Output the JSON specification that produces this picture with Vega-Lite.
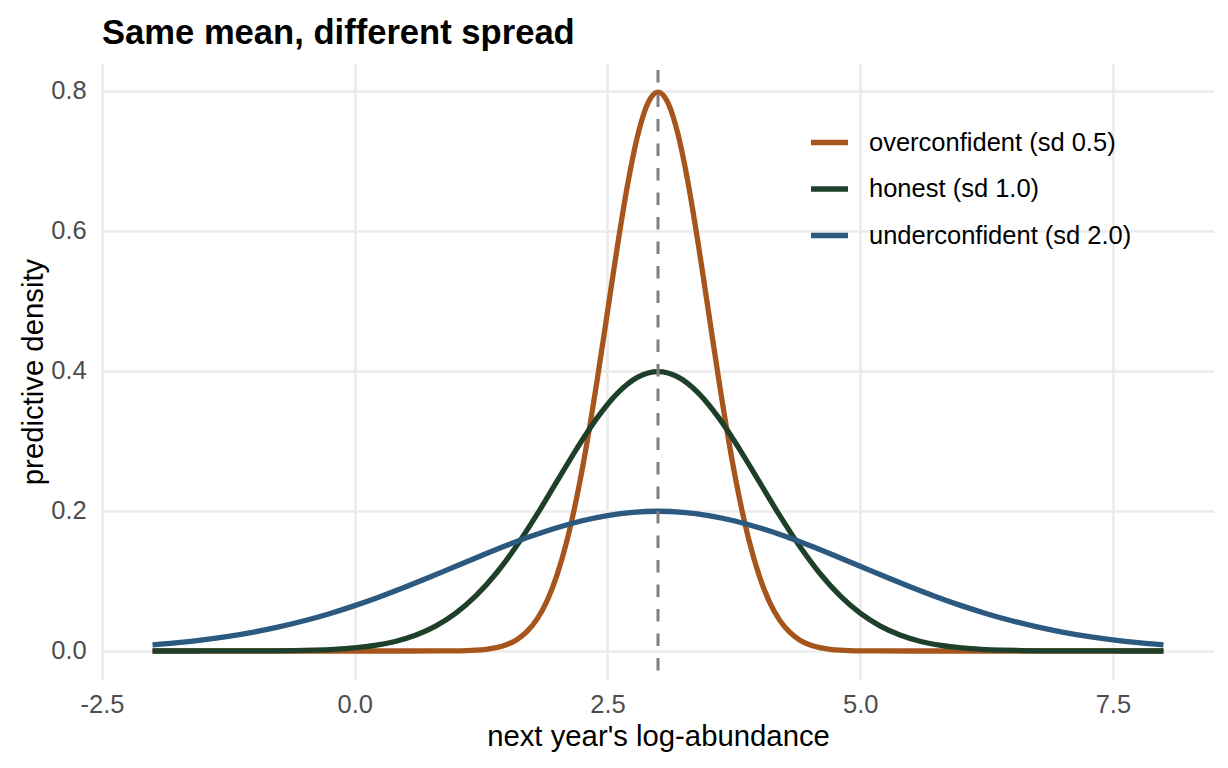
{
  "$schema": "https://vega.github.io/schema/vega-lite/v6.json",
  "width": 1112,
  "height": 615,
  "autosize": {"type": "none"},
  "padding": {"left": 102, "top": 64, "right": 14, "bottom": 89},
  "background": "#ffffff",
  "title": {
    "text": "Same mean, different spread",
    "anchor": "start",
    "frame": "group",
    "font": "Liberation Sans",
    "fontSize": 34.6,
    "fontWeight": "bold",
    "color": "#000000",
    "offset": 11
  },
  "config": {
    "view": {"stroke": null},
    "axis": {
      "domain": false,
      "ticks": false,
      "tickSize": 0,
      "grid": true,
      "gridColor": "#EBEBEB",
      "gridWidth": 2.7,
      "labelFont": "Liberation Sans",
      "labelFontSize": 25.5,
      "labelColor": "#4D4D4D",
      "labelFlush": false,
      "labelOverlap": false,
      "labelBound": false,
      "titleFont": "Liberation Sans",
      "titleFontSize": 29.3,
      "titleFontWeight": "normal",
      "titleColor": "#000000"
    }
  },
  "datasets": {
    "curves": [
      {"forecast": "overconfident (sd 0.5)", "x": -2, "density": 0},
      {"forecast": "overconfident (sd 0.5)", "x": -1, "density": 0},
      {"forecast": "overconfident (sd 0.5)", "x": 0, "density": 0},
      {"forecast": "overconfident (sd 0.5)", "x": 0.5, "density": 0.000003},
      {"forecast": "overconfident (sd 0.5)", "x": 1.0, "density": 0.000268},
      {"forecast": "overconfident (sd 0.5)", "x": 1.1, "density": 0.000584},
      {"forecast": "overconfident (sd 0.5)", "x": 1.2, "density": 0.001224},
      {"forecast": "overconfident (sd 0.5)", "x": 1.3, "density": 0.002464},
      {"forecast": "overconfident (sd 0.5)", "x": 1.4, "density": 0.004768},
      {"forecast": "overconfident (sd 0.5)", "x": 1.5, "density": 0.008864},
      {"forecast": "overconfident (sd 0.5)", "x": 1.6, "density": 0.015831},
      {"forecast": "overconfident (sd 0.5)", "x": 1.7, "density": 0.027166},
      {"forecast": "overconfident (sd 0.5)", "x": 1.8, "density": 0.044789},
      {"forecast": "overconfident (sd 0.5)", "x": 1.9, "density": 0.070949},
      {"forecast": "overconfident (sd 0.5)", "x": 2.0, "density": 0.107982},
      {"forecast": "overconfident (sd 0.5)", "x": 2.1, "density": 0.1579},
      {"forecast": "overconfident (sd 0.5)", "x": 2.2, "density": 0.221842},
      {"forecast": "overconfident (sd 0.5)", "x": 2.3, "density": 0.299455},
      {"forecast": "overconfident (sd 0.5)", "x": 2.4, "density": 0.388372},
      {"forecast": "overconfident (sd 0.5)", "x": 2.5, "density": 0.483941},
      {"forecast": "overconfident (sd 0.5)", "x": 2.6, "density": 0.579383},
      {"forecast": "overconfident (sd 0.5)", "x": 2.7, "density": 0.666449},
      {"forecast": "overconfident (sd 0.5)", "x": 2.8, "density": 0.73654},
      {"forecast": "overconfident (sd 0.5)", "x": 2.9, "density": 0.782085},
      {"forecast": "overconfident (sd 0.5)", "x": 3.0, "density": 0.797885},
      {"forecast": "overconfident (sd 0.5)", "x": 3.1, "density": 0.782085},
      {"forecast": "overconfident (sd 0.5)", "x": 3.2, "density": 0.73654},
      {"forecast": "overconfident (sd 0.5)", "x": 3.3, "density": 0.666449},
      {"forecast": "overconfident (sd 0.5)", "x": 3.4, "density": 0.579383},
      {"forecast": "overconfident (sd 0.5)", "x": 3.5, "density": 0.483941},
      {"forecast": "overconfident (sd 0.5)", "x": 3.6, "density": 0.388372},
      {"forecast": "overconfident (sd 0.5)", "x": 3.7, "density": 0.299455},
      {"forecast": "overconfident (sd 0.5)", "x": 3.8, "density": 0.221842},
      {"forecast": "overconfident (sd 0.5)", "x": 3.9, "density": 0.1579},
      {"forecast": "overconfident (sd 0.5)", "x": 4.0, "density": 0.107982},
      {"forecast": "overconfident (sd 0.5)", "x": 4.1, "density": 0.070949},
      {"forecast": "overconfident (sd 0.5)", "x": 4.2, "density": 0.044789},
      {"forecast": "overconfident (sd 0.5)", "x": 4.3, "density": 0.027166},
      {"forecast": "overconfident (sd 0.5)", "x": 4.4, "density": 0.015831},
      {"forecast": "overconfident (sd 0.5)", "x": 4.5, "density": 0.008864},
      {"forecast": "overconfident (sd 0.5)", "x": 4.6, "density": 0.004768},
      {"forecast": "overconfident (sd 0.5)", "x": 4.7, "density": 0.002464},
      {"forecast": "overconfident (sd 0.5)", "x": 4.8, "density": 0.001224},
      {"forecast": "overconfident (sd 0.5)", "x": 4.9, "density": 0.000584},
      {"forecast": "overconfident (sd 0.5)", "x": 5.0, "density": 0.000268},
      {"forecast": "overconfident (sd 0.5)", "x": 5.5, "density": 0.000003},
      {"forecast": "overconfident (sd 0.5)", "x": 6, "density": 0},
      {"forecast": "overconfident (sd 0.5)", "x": 7, "density": 0},
      {"forecast": "overconfident (sd 0.5)", "x": 8, "density": 0},

      {"forecast": "honest (sd 1.0)", "x": -2.0, "density": 0.000001},
      {"forecast": "honest (sd 1.0)", "x": -1.8, "density": 0.000004},
      {"forecast": "honest (sd 1.0)", "x": -1.6, "density": 0.00001},
      {"forecast": "honest (sd 1.0)", "x": -1.4, "density": 0.000025},
      {"forecast": "honest (sd 1.0)", "x": -1.2, "density": 0.000059},
      {"forecast": "honest (sd 1.0)", "x": -1.0, "density": 0.000134},
      {"forecast": "honest (sd 1.0)", "x": -0.8, "density": 0.000292},
      {"forecast": "honest (sd 1.0)", "x": -0.6, "density": 0.000612},
      {"forecast": "honest (sd 1.0)", "x": -0.4, "density": 0.001232},
      {"forecast": "honest (sd 1.0)", "x": -0.2, "density": 0.002384},
      {"forecast": "honest (sd 1.0)", "x": 0.0, "density": 0.004432},
      {"forecast": "honest (sd 1.0)", "x": 0.2, "density": 0.007915},
      {"forecast": "honest (sd 1.0)", "x": 0.4, "density": 0.013583},
      {"forecast": "honest (sd 1.0)", "x": 0.6, "density": 0.022395},
      {"forecast": "honest (sd 1.0)", "x": 0.8, "density": 0.035475},
      {"forecast": "honest (sd 1.0)", "x": 1.0, "density": 0.053991},
      {"forecast": "honest (sd 1.0)", "x": 1.2, "density": 0.07895},
      {"forecast": "honest (sd 1.0)", "x": 1.4, "density": 0.110921},
      {"forecast": "honest (sd 1.0)", "x": 1.6, "density": 0.149727},
      {"forecast": "honest (sd 1.0)", "x": 1.8, "density": 0.194186},
      {"forecast": "honest (sd 1.0)", "x": 2.0, "density": 0.241971},
      {"forecast": "honest (sd 1.0)", "x": 2.2, "density": 0.289692},
      {"forecast": "honest (sd 1.0)", "x": 2.4, "density": 0.333225},
      {"forecast": "honest (sd 1.0)", "x": 2.6, "density": 0.36827},
      {"forecast": "honest (sd 1.0)", "x": 2.8, "density": 0.391043},
      {"forecast": "honest (sd 1.0)", "x": 3.0, "density": 0.398942},
      {"forecast": "honest (sd 1.0)", "x": 3.2, "density": 0.391043},
      {"forecast": "honest (sd 1.0)", "x": 3.4, "density": 0.36827},
      {"forecast": "honest (sd 1.0)", "x": 3.6, "density": 0.333225},
      {"forecast": "honest (sd 1.0)", "x": 3.8, "density": 0.289692},
      {"forecast": "honest (sd 1.0)", "x": 4.0, "density": 0.241971},
      {"forecast": "honest (sd 1.0)", "x": 4.2, "density": 0.194186},
      {"forecast": "honest (sd 1.0)", "x": 4.4, "density": 0.149727},
      {"forecast": "honest (sd 1.0)", "x": 4.6, "density": 0.110921},
      {"forecast": "honest (sd 1.0)", "x": 4.8, "density": 0.07895},
      {"forecast": "honest (sd 1.0)", "x": 5.0, "density": 0.053991},
      {"forecast": "honest (sd 1.0)", "x": 5.2, "density": 0.035475},
      {"forecast": "honest (sd 1.0)", "x": 5.4, "density": 0.022395},
      {"forecast": "honest (sd 1.0)", "x": 5.6, "density": 0.013583},
      {"forecast": "honest (sd 1.0)", "x": 5.8, "density": 0.007915},
      {"forecast": "honest (sd 1.0)", "x": 6.0, "density": 0.004432},
      {"forecast": "honest (sd 1.0)", "x": 6.2, "density": 0.002384},
      {"forecast": "honest (sd 1.0)", "x": 6.4, "density": 0.001232},
      {"forecast": "honest (sd 1.0)", "x": 6.6, "density": 0.000612},
      {"forecast": "honest (sd 1.0)", "x": 6.8, "density": 0.000292},
      {"forecast": "honest (sd 1.0)", "x": 7.0, "density": 0.000134},
      {"forecast": "honest (sd 1.0)", "x": 7.2, "density": 0.000059},
      {"forecast": "honest (sd 1.0)", "x": 7.4, "density": 0.000025},
      {"forecast": "honest (sd 1.0)", "x": 7.6, "density": 0.00001},
      {"forecast": "honest (sd 1.0)", "x": 7.8, "density": 0.000004},
      {"forecast": "honest (sd 1.0)", "x": 8.0, "density": 0.000001},

      {"forecast": "underconfident (sd 2.0)", "x": -2.0, "density": 0.008764},
      {"forecast": "underconfident (sd 2.0)", "x": -1.75, "density": 0.011886},
      {"forecast": "underconfident (sd 2.0)", "x": -1.5, "density": 0.01587},
      {"forecast": "underconfident (sd 2.0)", "x": -1.25, "density": 0.02086},
      {"forecast": "underconfident (sd 2.0)", "x": -1.0, "density": 0.026995},
      {"forecast": "underconfident (sd 2.0)", "x": -0.75, "density": 0.034393},
      {"forecast": "underconfident (sd 2.0)", "x": -0.5, "density": 0.043139},
      {"forecast": "underconfident (sd 2.0)", "x": -0.25, "density": 0.053269},
      {"forecast": "underconfident (sd 2.0)", "x": 0.0, "density": 0.064759},
      {"forecast": "underconfident (sd 2.0)", "x": 0.25, "density": 0.077506},
      {"forecast": "underconfident (sd 2.0)", "x": 0.5, "density": 0.091324},
      {"forecast": "underconfident (sd 2.0)", "x": 0.75, "density": 0.105938},
      {"forecast": "underconfident (sd 2.0)", "x": 1.0, "density": 0.120985},
      {"forecast": "underconfident (sd 2.0)", "x": 1.25, "density": 0.136027},
      {"forecast": "underconfident (sd 2.0)", "x": 1.5, "density": 0.150569},
      {"forecast": "underconfident (sd 2.0)", "x": 1.75, "density": 0.164081},
      {"forecast": "underconfident (sd 2.0)", "x": 2.0, "density": 0.176033},
      {"forecast": "underconfident (sd 2.0)", "x": 2.25, "density": 0.185927},
      {"forecast": "underconfident (sd 2.0)", "x": 2.5, "density": 0.193334},
      {"forecast": "underconfident (sd 2.0)", "x": 2.75, "density": 0.197919},
      {"forecast": "underconfident (sd 2.0)", "x": 3.0, "density": 0.199471},
      {"forecast": "underconfident (sd 2.0)", "x": 3.25, "density": 0.197919},
      {"forecast": "underconfident (sd 2.0)", "x": 3.5, "density": 0.193334},
      {"forecast": "underconfident (sd 2.0)", "x": 3.75, "density": 0.185927},
      {"forecast": "underconfident (sd 2.0)", "x": 4.0, "density": 0.176033},
      {"forecast": "underconfident (sd 2.0)", "x": 4.25, "density": 0.164081},
      {"forecast": "underconfident (sd 2.0)", "x": 4.5, "density": 0.150569},
      {"forecast": "underconfident (sd 2.0)", "x": 4.75, "density": 0.136027},
      {"forecast": "underconfident (sd 2.0)", "x": 5.0, "density": 0.120985},
      {"forecast": "underconfident (sd 2.0)", "x": 5.25, "density": 0.105938},
      {"forecast": "underconfident (sd 2.0)", "x": 5.5, "density": 0.091324},
      {"forecast": "underconfident (sd 2.0)", "x": 5.75, "density": 0.077506},
      {"forecast": "underconfident (sd 2.0)", "x": 6.0, "density": 0.064759},
      {"forecast": "underconfident (sd 2.0)", "x": 6.25, "density": 0.053269},
      {"forecast": "underconfident (sd 2.0)", "x": 6.5, "density": 0.043139},
      {"forecast": "underconfident (sd 2.0)", "x": 6.75, "density": 0.034393},
      {"forecast": "underconfident (sd 2.0)", "x": 7.0, "density": 0.026995},
      {"forecast": "underconfident (sd 2.0)", "x": 7.25, "density": 0.02086},
      {"forecast": "underconfident (sd 2.0)", "x": 7.5, "density": 0.01587},
      {"forecast": "underconfident (sd 2.0)", "x": 7.75, "density": 0.011886},
      {"forecast": "underconfident (sd 2.0)", "x": 8.0, "density": 0.008764}
    ],
    "mean": [{"x": 3}]
  },
  "layer": [
    {
      "data": {"name": "curves"},
      "mark": {"type": "line", "interpolate": "monotone", "strokeWidth": 5.3, "strokeCap": "butt"},
      "encoding": {
        "x": {
          "field": "x",
          "type": "quantitative",
          "title": "next year's log-abundance",
          "scale": {"domain": [-2.5, 8.5], "nice": false, "zero": false},
          "axis": {
            "values": [-2.5, 0, 2.5, 5, 7.5],
            "format": ".1f",
            "labelExpr": "replace(datum.label, '\u2212', '-')",
            "labelPadding": 13,
            "titleBaseline": "alphabetic",
            "titleY": 66.3
          }
        },
        "y": {
          "field": "density",
          "type": "quantitative",
          "title": "predictive density",
          "scale": {"domain": [-0.04, 0.838], "nice": false, "zero": false},
          "axis": {
            "values": [0, 0.2, 0.4, 0.6, 0.8],
            "format": ".1f",
            "labelPadding": 15.7,
            "titleAngle": 270,
            "titleAlign": "center",
            "titleBaseline": "alphabetic",
            "titleX": -60,
            "titleY": 307.5
          }
        },
        "color": {
          "field": "forecast",
          "type": "nominal",
          "scale": {
            "domain": ["overconfident (sd 0.5)", "honest (sd 1.0)", "underconfident (sd 2.0)"],
            "range": ["#A6561C", "#1E402A", "#2B5980"]
          },
          "legend": {
            "title": null,
            "orient": "none",
            "legendX": 706,
            "legendY": 57,
            "padding": 0,
            "symbolType": "stroke",
            "symbolSize": 1369,
            "symbolStrokeWidth": 5.3,
            "labelFont": "Liberation Sans",
            "labelFontSize": 25.5,
            "labelColor": "#000000",
            "labelOffset": 18,
            "labelLimit": 0,
            "rowPadding": 11.5
          }
        }
      }
    },
    {
      "data": {"name": "mean"},
      "mark": {"type": "rule", "color": "#7F7F7F", "strokeWidth": 3, "strokeDash": [12.5, 12], "strokeDashOffset": 18.5},
      "encoding": {"x": {"field": "x", "type": "quantitative"}}
    }
  ]
}
